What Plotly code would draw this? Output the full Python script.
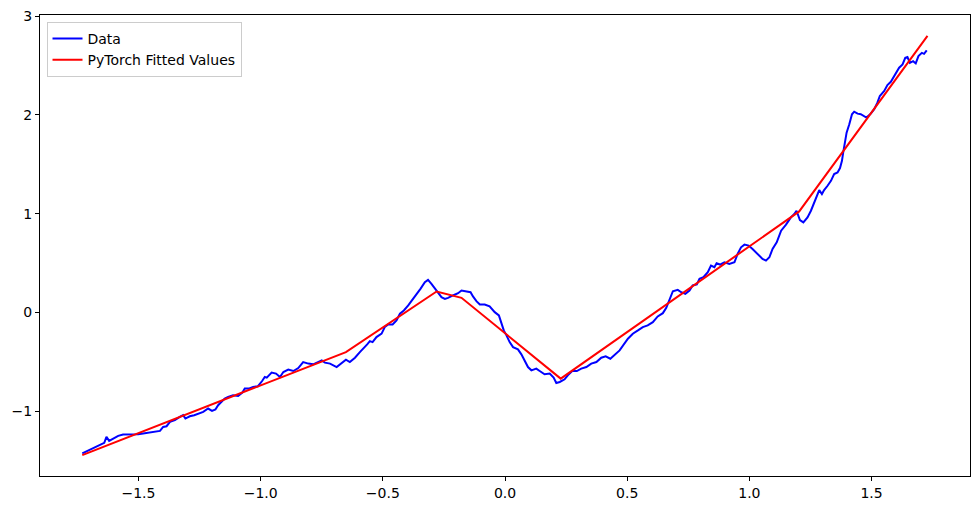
import plotly.graph_objects as go

# blue data curve (standardized x, target y)
data_x = [-1.730, -1.712, -1.692, -1.671, -1.651, -1.640, -1.631, -1.620, -1.603, -1.583,
          -1.563, -1.542, -1.522, -1.501, -1.481, -1.460, -1.440, -1.412, -1.399, -1.385,
          -1.371, -1.351, -1.331, -1.317, -1.308, -1.290, -1.272, -1.256, -1.235, -1.215,
          -1.199, -1.185, -1.174, -1.161, -1.147, -1.133, -1.113, -1.092, -1.076, -1.065,
          -1.049, -1.031, -1.011, -0.994, -0.983, -0.975, -0.955, -0.937, -0.921, -0.907,
          -0.887, -0.866, -0.846, -0.826, -0.805, -0.785, -0.764, -0.750, -0.737, -0.716,
          -0.689, -0.669, -0.651, -0.635, -0.614, -0.594, -0.573, -0.564, -0.553, -0.542,
          -0.526, -0.505, -0.492, -0.478, -0.460, -0.444, -0.430, -0.414, -0.396, -0.378,
          -0.362, -0.346, -0.328, -0.315, -0.301, -0.283, -0.260, -0.246, -0.233, -0.213,
          -0.192, -0.178, -0.158, -0.141, -0.131, -0.117, -0.103, -0.083, -0.063, -0.042,
          -0.025, -0.015, -0.005, 0.006, 0.019, 0.033, 0.053, 0.067, 0.081, 0.094,
          0.108, 0.128, 0.142, 0.162, 0.183, 0.199, 0.210, 0.224, 0.244, 0.257,
          0.275, 0.294, 0.312, 0.333, 0.353, 0.374, 0.394, 0.412, 0.431, 0.448,
          0.469, 0.503, 0.523, 0.544, 0.564, 0.584, 0.605, 0.625, 0.646, 0.660,
          0.673, 0.687, 0.707, 0.721, 0.738, 0.755, 0.768, 0.785, 0.796, 0.812,
          0.830, 0.843, 0.857, 0.866, 0.880, 0.898, 0.918, 0.939, 0.952, 0.966,
          0.980, 0.997, 1.013, 1.034, 1.054, 1.068, 1.082, 1.095, 1.112, 1.130,
          1.150, 1.170, 1.184, 1.193, 1.207, 1.221, 1.238, 1.252, 1.270, 1.286,
          1.297, 1.306, 1.320, 1.334, 1.347, 1.361, 1.371, 1.379, 1.384, 1.391,
          1.398, 1.409, 1.420, 1.429, 1.443, 1.456, 1.479, 1.497, 1.511, 1.524,
          1.534, 1.552, 1.565, 1.579, 1.597, 1.613, 1.627, 1.638, 1.647, 1.657,
          1.670, 1.681, 1.692, 1.706, 1.715, 1.726]
data_y = [-1.427, -1.404, -1.377, -1.354, -1.333, -1.320, -1.260, -1.300, -1.276, -1.249,
          -1.235, -1.235, -1.235, -1.232, -1.225, -1.219, -1.209, -1.199, -1.159, -1.152,
          -1.108, -1.091, -1.058, -1.040, -1.074, -1.051, -1.040, -1.023, -1.007, -0.973,
          -0.997, -0.983, -0.939, -0.906, -0.872, -0.856, -0.838, -0.845, -0.815, -0.771,
          -0.771, -0.755, -0.747, -0.694, -0.654, -0.660, -0.609, -0.619, -0.654, -0.603,
          -0.579, -0.593, -0.563, -0.502, -0.518, -0.525, -0.502, -0.485, -0.508, -0.518,
          -0.553, -0.518, -0.478, -0.502, -0.458, -0.401, -0.351, -0.323, -0.290, -0.300,
          -0.249, -0.215, -0.148, -0.121, -0.121, -0.081, -0.013, 0.020, 0.071, 0.128,
          0.189, 0.239, 0.306, 0.330, 0.290, 0.229, 0.155, 0.138, 0.148, 0.172,
          0.195, 0.222, 0.215, 0.205, 0.162, 0.114, 0.081, 0.081, 0.061, 0.003,
          -0.030, -0.114, -0.182, -0.232, -0.300, -0.351, -0.374, -0.424, -0.485, -0.553,
          -0.586, -0.569, -0.593, -0.626, -0.619, -0.660, -0.714, -0.704, -0.677, -0.636,
          -0.593, -0.593, -0.569, -0.553, -0.518, -0.502, -0.458, -0.444, -0.468, -0.434,
          -0.384, -0.266, -0.215, -0.182, -0.148, -0.131, -0.098, -0.040, -0.007, 0.047,
          0.138, 0.215, 0.229, 0.205, 0.189, 0.222, 0.273, 0.283, 0.340, 0.357,
          0.407, 0.475, 0.458, 0.498, 0.485, 0.508, 0.492, 0.508, 0.593, 0.660,
          0.687, 0.677, 0.643, 0.593, 0.542, 0.525, 0.559, 0.643, 0.710, 0.828,
          0.889, 0.963, 0.997, 1.030, 0.936, 0.912, 0.963, 1.030, 1.131, 1.239,
          1.199, 1.239, 1.283, 1.333, 1.401, 1.417, 1.462, 1.535, 1.619, 1.720,
          1.821, 1.906, 2.007, 2.033, 2.013, 2.007, 1.973, 2.013, 2.058, 2.124,
          2.192, 2.242, 2.303, 2.336, 2.404, 2.478, 2.512, 2.579, 2.586, 2.528,
          2.545, 2.522, 2.596, 2.629, 2.619, 2.654]

# red piecewise-linear fit (kinks of the network output)
fit_x = [-1.730, -0.651, -0.280, -0.178, 0.228, 1.204, 1.729]
fit_y = [-1.444, -0.401, 0.212, 0.148, -0.670, 1.023, 2.800]

x_ticks = [-1.5, -1.0, -0.5, 0.0, 0.5, 1.0, 1.5]
y_ticks = [-1, 0, 1, 2, 3]

fig = go.Figure()
fig.add_trace(go.Scatter(x=data_x, y=data_y, mode="lines", name="Data",
                         line=dict(color="blue", width=2)))
fig.add_trace(go.Scatter(x=fit_x, y=fit_y, mode="lines", name="PyTorch Fitted Values",
                         line=dict(color="red", width=2)))

axis_style = dict(showline=True, linecolor="black", linewidth=1, mirror=True,
                  ticks="outside", ticklen=4, tickcolor="black", showgrid=False,
                  zeroline=False, automargin=False,
                  tickfont=dict(family="DejaVu Sans", size=14, color="black"))

fig.update_xaxes(range=[-1.903, 1.903], tickvals=x_ticks, tickformat=".1f", **axis_style)
fig.update_yaxes(range=[-1.656, 3.012], tickvals=y_ticks, **axis_style)

# page body adds ~8px offset, margins compensate for it
fig.update_layout(
    width=980, height=510,
    paper_bgcolor="white", plot_bgcolor="white",
    margin=dict(l=32, r=18, t=7, b=42),
    font=dict(family="DejaVu Sans", size=14, color="black"),
    legend=dict(x=0.007, y=0.985, xanchor="left", yanchor="top",
                bgcolor="rgba(255,255,255,0.8)", bordercolor="#cccccc", borderwidth=1,
                font=dict(size=14), itemwidth=30, tracegroupgap=0),
    showlegend=True,
)

fig.write_html("out.html")
